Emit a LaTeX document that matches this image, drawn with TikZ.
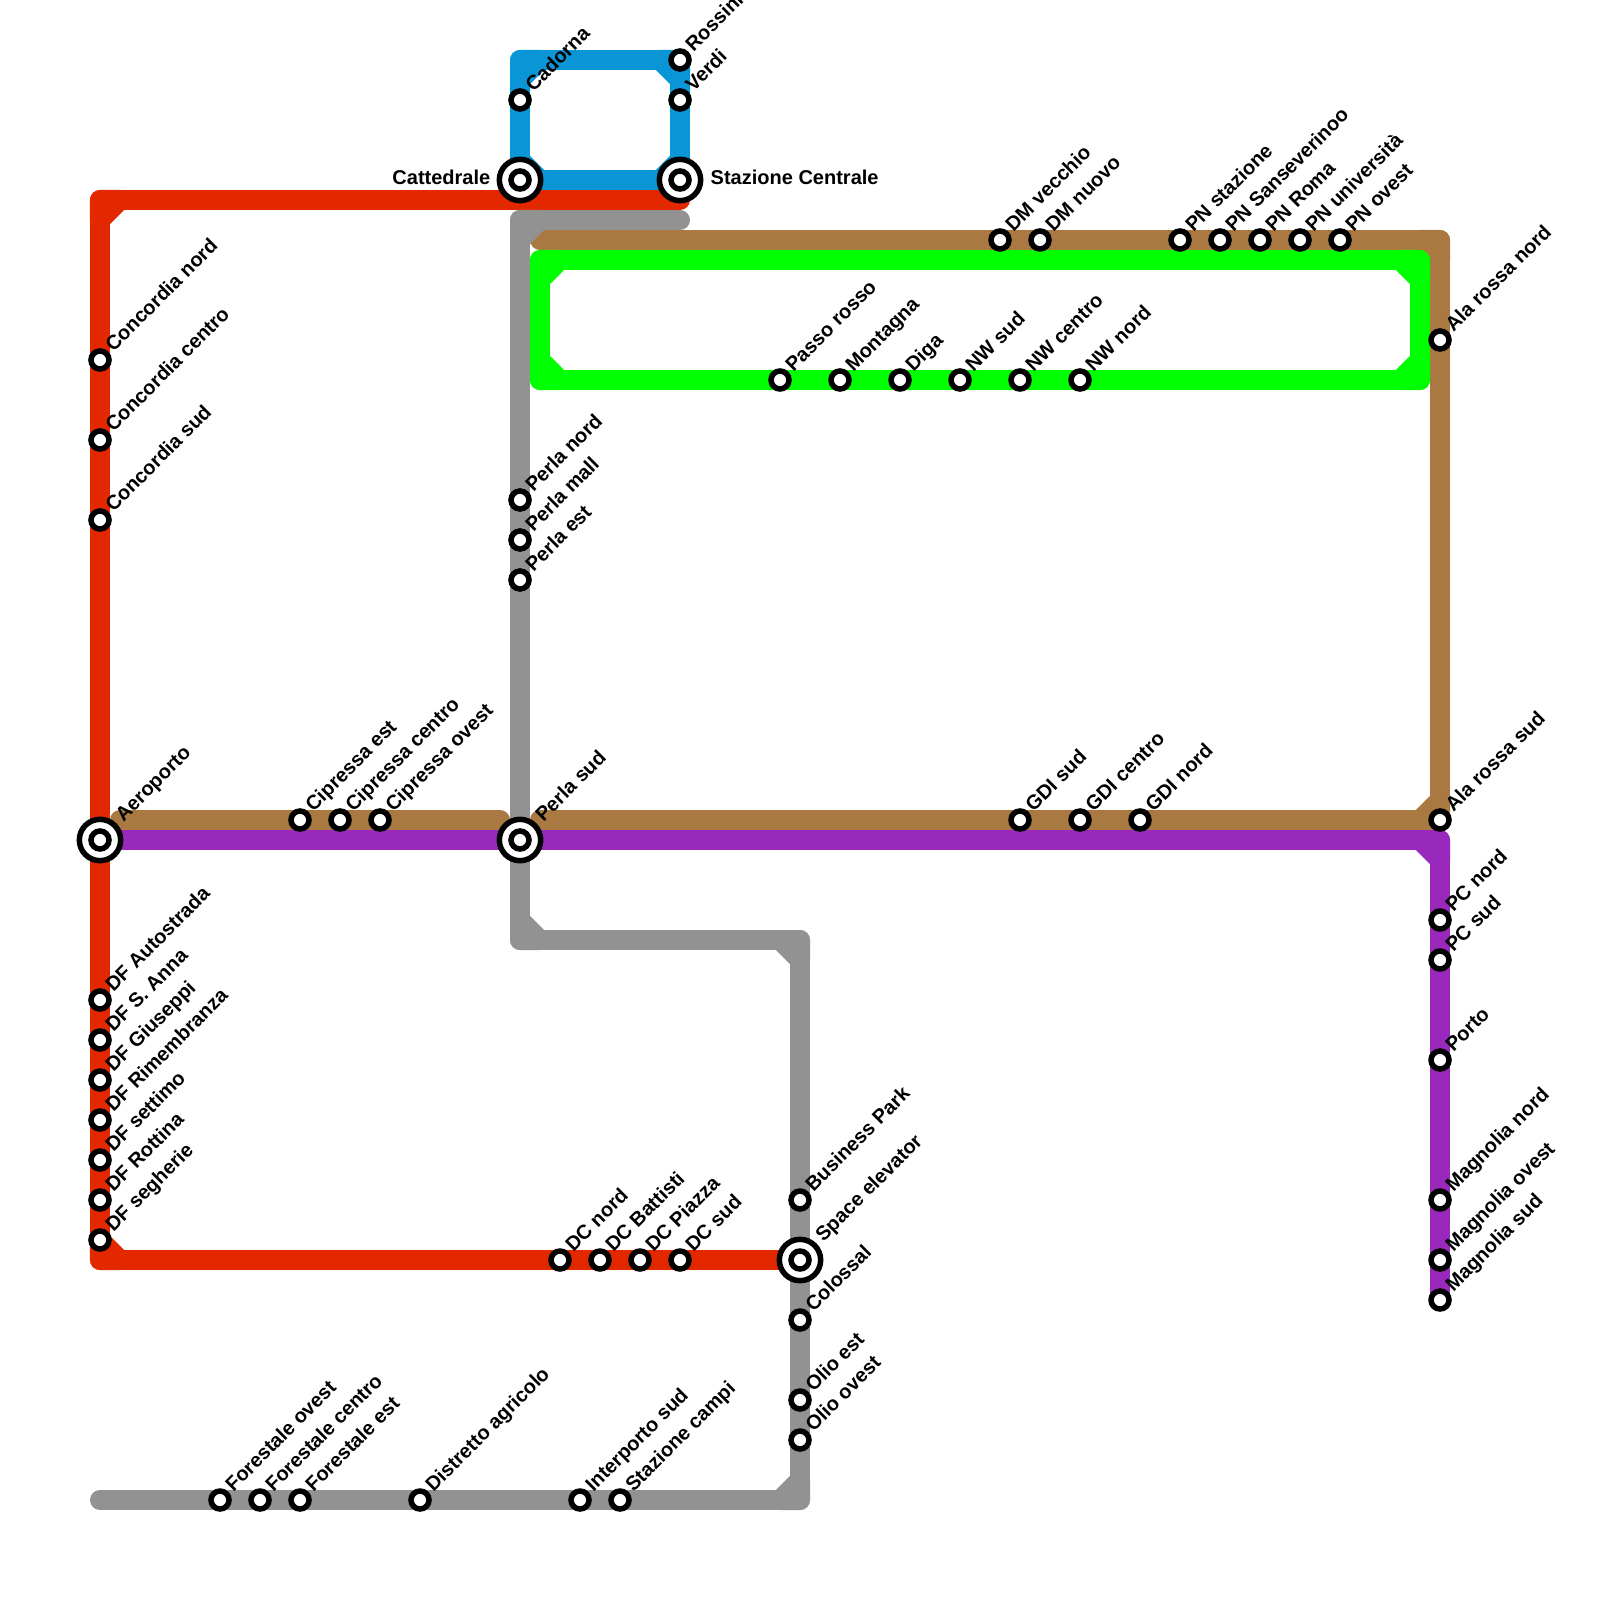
\documentclass[tikz,border=0pt]{standalone}
\usepackage{fontspec}
\setmainfont{Liberation Sans}
\usetikzlibrary{backgrounds}

\definecolor{redline}{HTML}{E32800}
\definecolor{blueline}{HTML}{0A96D6}
\definecolor{grayline}{HTML}{929292}
\definecolor{brownline}{HTML}{AA7942}
\definecolor{greenline}{HTML}{00FF00}
\definecolor{purpleline}{HTML}{9929BD}

\tikzset{
    metro/.style={line width=0.2cm, line join=round, line cap=round},
    station/.style={circle, draw=black, fill=white, line width=0.055cm, minimum size=0.18cm, inner sep=0pt},
    hub/.style={circle, draw=black, fill=white, line width=0.055cm, minimum size=0.413cm, inner sep=0pt},
    stlabel/.style={inner sep=0pt, font=\fontsize{5.69}{7}\selectfont\bfseries},
}

\newcommand{\linebend}[4]{\draw[metro, #1] ([shift={(#3,0)}]#2) -- (#2) -- ([shift={(0,#4)}]#2) -- cycle;}

\begin{document}
\begin{tikzpicture}[x=0.01cm, y=-0.01cm]
    \useasboundingbox (0,0) rectangle (1600,1600);

    \foreach \x/\y/\stn in {520/180/cattedrale, 680/180/centrale, 100/840/aeroporto, 520/840/perlasud, 800/1260/spaceelevator}
        \node[hub] (\stn) at (\x,\y) {};
    \foreach \x/\y/\stn in {520/180/cattedraleb, 680/180/centraleb, 100/840/aeroportob, 520/840/perlasudb, 800/1260/spaceelevatorb}
        \node[station] (\stn) at (\x,\y) {};

    \foreach \x/\y/\stn in {
        520/100/cadorna, 680/60/rossini, 680/100/verdi,
        100/360/concordian, 100/440/concordiac, 100/520/concordias,
        520/500/perlan, 520/540/perlam, 520/580/perlae,
        300/820/cipressae, 340/820/cipressac, 380/820/cipressao,
        780/380/passo, 840/380/montagna, 900/380/diga,
        960/380/nws, 1020/380/nwc, 1080/380/nwn,
        1000/240/dmv, 1040/240/dmn,
        1180/240/pnst, 1220/240/pnsa, 1260/240/pnr,
        1300/240/pnu, 1340/240/pno,
        1440/340/alan, 1440/820/alas,
        1020/820/gdis, 1080/820/gdic, 1140/820/gdin,
        1440/920/pcn, 1440/960/pcs, 1440/1060/porto,
        1440/1200/magnolian, 1440/1260/magnoliao, 1440/1300/magnolias,
        100/1000/dfa, 100/1040/dfs, 100/1080/dfg,
        100/1120/dfr, 100/1160/dfse, 100/1200/dfro, 100/1240/dfsg,
        560/1260/dcn, 600/1260/dcb, 640/1260/dcp, 680/1260/dcs,
        800/1200/business, 800/1320/colossal, 800/1400/olioe, 800/1440/olioo,
        220/1500/foro, 260/1500/forc, 300/1500/fore,
        420/1500/distretto, 580/1500/interporto, 620/1500/campi}
        \node[station] (\stn) at (\x,\y) {};

    \foreach \stn/\lab in {
        cadorna/Cadorna, rossini/Rossini, verdi/Verdi,
        concordian/Concordia nord, concordiac/Concordia centro, concordias/Concordia sud,
        perlan/Perla nord, perlam/Perla mall, perlae/Perla est,
        cipressae/Cipressa est, cipressac/Cipressa centro, cipressao/Cipressa ovest,
        passo/Passo rosso, montagna/Montagna, diga/Diga,
        nws/NW sud, nwc/NW centro, nwn/NW nord,
        dmv/DM vecchio, dmn/DM nuovo,
        pnst/PN stazione, pnsa/PN Sanseverinoo, pnr/PN Roma,
        pnu/PN università, pno/PN ovest,
        alan/Ala rossa nord, alas/Ala rossa sud,
        gdis/GDI sud, gdic/GDI centro, gdin/GDI nord,
        pcn/PC nord, pcs/PC sud, porto/Porto,
        magnolian/Magnolia nord, magnoliao/Magnolia ovest, magnolias/Magnolia sud,
        dfa/DF Autostrada, dfs/DF S. Anna, dfg/DF Giuseppi,
        dfr/DF Rimembranza, dfse/DF settimo, dfro/DF Rottina, dfsg/DF segherie,
        dcn/DC nord, dcb/DC Battisti, dcp/DC Piazza, dcs/DC sud,
        business/Business Park, colossal/Colossal, olioe/Olio est, olioo/Olio ovest,
        foro/Forestale ovest, forc/Forestale centro, fore/Forestale est,
        distretto/Distretto agricolo, interporto/Interporto sud, campi/Stazione campi}
        \node[stlabel, rotate=45, anchor=base west] (\stn-label) at ([shift={(13,-7)}]\stn.center) {\lab};

    \foreach \stn/\lab in {aeroporto/Aeroporto, perlasud/Perla sud, spaceelevator/Space elevator}
        \node[stlabel, rotate=45, anchor=base west] (\stn-label) at ([shift={(23,-17)}]\stn.center) {\lab};
    \node[stlabel, anchor=base west] (centrale-label) at ([shift={(30,5)}]centrale.center) {Stazione Centrale};
    \node[stlabel, anchor=base east] (cattedrale-label) at ([shift={(-29,5)}]cattedrale.center) {Cattedrale};

    \coordinate (redend) at (680,200);
    \coordinate (redtl) at (100,200);
    \coordinate (redbl) at (100,1260);
    \coordinate (bluetl) at (520,60);
    \coordinate (bluetr) at (680,60);
    \coordinate (brownstart) at (540,240);
    \coordinate (browntr) at (1440,240);
    \coordinate (brownbr) at (1440,820);
    \coordinate (brownmid) at (540,820);
    \coordinate (brownwest) at (500,820);
    \coordinate (browneast) at (120,820);
    \coordinate (greentl) at (540,260);
    \coordinate (greentr) at (1420,260);
    \coordinate (greenbr) at (1420,380);
    \coordinate (greenbl) at (540,380);
    \coordinate (grayend) at (680,220);
    \coordinate (graytl) at (520,220);
    \coordinate (graybl) at (520,940);
    \coordinate (graytr) at (800,940);
    \coordinate (graybr) at (800,1500);
    \coordinate (graystart) at (100,1500);
    \coordinate (purplebr) at (1440,840);

    \begin{scope}[on background layer]
        \draw[metro, redline] (redend) -- (redtl) -- (redbl) -- (spaceelevator.center);
        \linebend{redline}{redtl}{20}{20}
        \linebend{redline}{redbl}{20}{-20}

        \draw[metro, blueline] (cattedrale.center) -- (bluetl) -- (bluetr) -- (centrale.center) -- cycle;
        \linebend{blueline}{bluetl}{20}{20}
        \linebend{blueline}{bluetr}{-20}{20}
        \linebend{blueline}{centrale.center}{-20}{-20}
        \linebend{blueline}{cattedrale.center}{20}{-20}

        \draw[metro, brownline] (brownstart) -- (browntr) -- (brownbr) -- (brownmid);
        \draw[metro, brownline] (brownwest) -- (browneast);
        \linebend{brownline}{browntr}{-20}{20}
        \linebend{brownline}{brownbr}{-20}{-20}

        \draw[metro, greenline] (greentl) -- (greentr) -- (greenbr) -- (greenbl) -- cycle;
        \linebend{greenline}{greentl}{20}{20}
        \linebend{greenline}{greentr}{-20}{20}
        \linebend{greenline}{greenbr}{-20}{-20}
        \linebend{greenline}{greenbl}{20}{-20}

        \draw[metro, grayline] (grayend) -- (graytl) -- (graybl) -- (graytr) -- (graybr) -- (graystart);
        \linebend{grayline}{graytl}{20}{20}
        \linebend{grayline}{graybl}{20}{-20}
        \linebend{grayline}{graytr}{-20}{20}
        \linebend{grayline}{graybr}{-20}{-20}

        \draw[metro, purpleline] (aeroporto.center) -- (purplebr) -- (magnolias.center);
        \linebend{purpleline}{purplebr}{-20}{20}
    \end{scope}
\end{tikzpicture}
\end{document}
